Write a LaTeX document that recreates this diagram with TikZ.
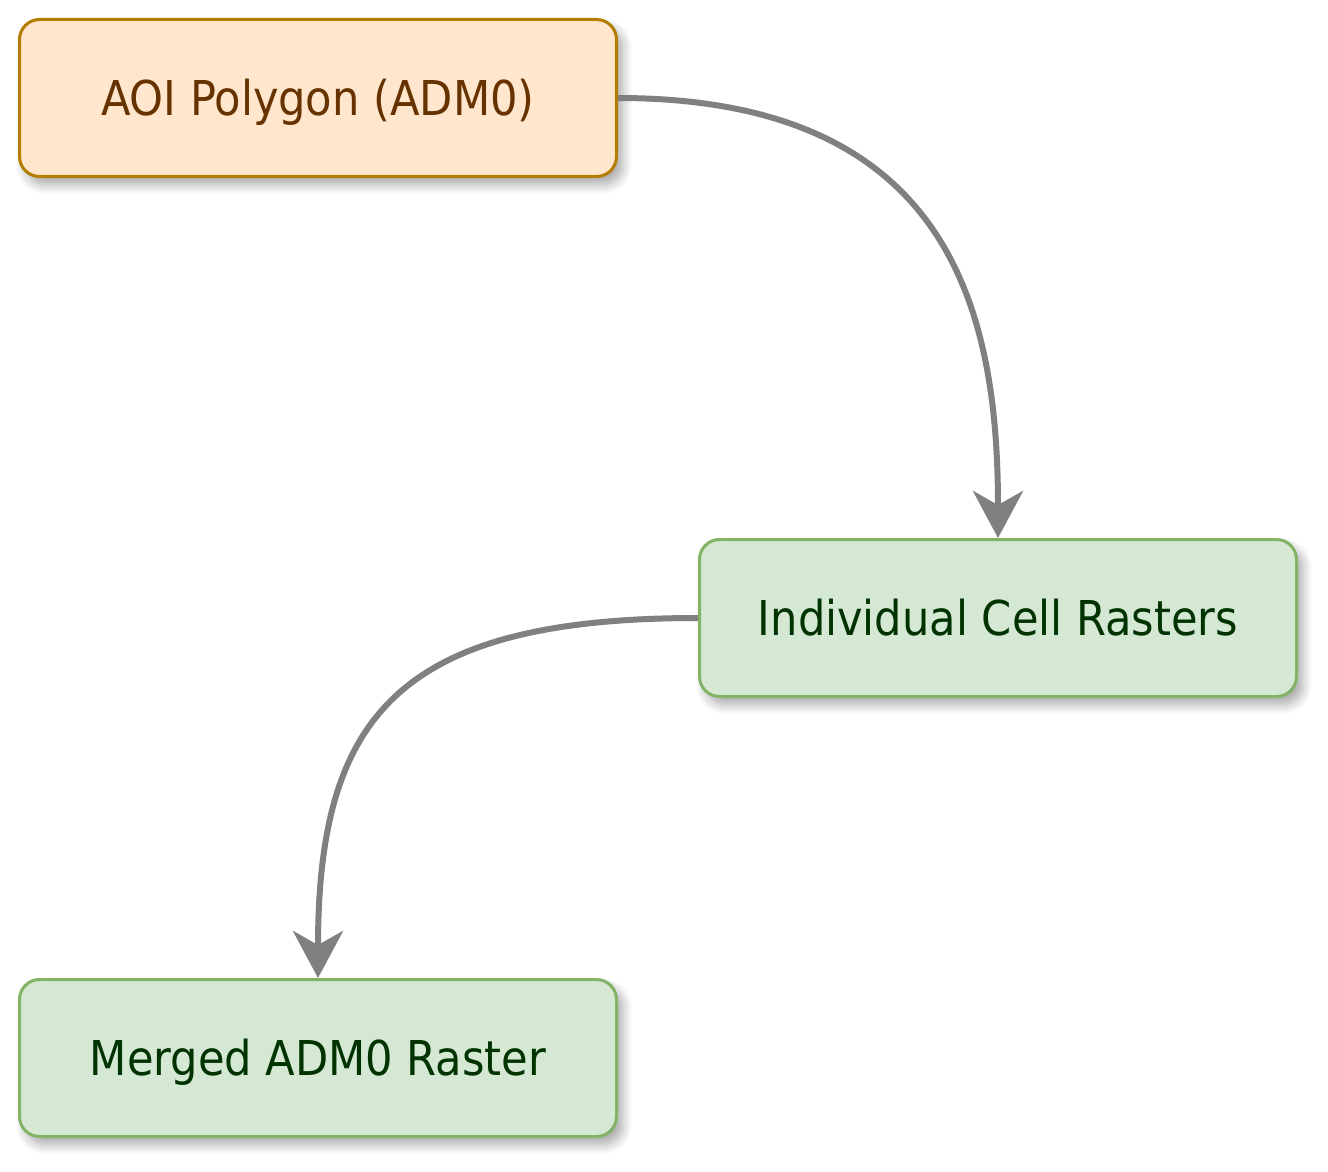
\documentclass[tikz,border=0pt]{standalone}
\usepackage{fontspec}
\setmainfont{DejaVu Sans Condensed}
\usepackage{tikz}
\usetikzlibrary{arrows.meta,shadows.blur}

\definecolor{aoiFill}{HTML}{FFE6CC}
\definecolor{aoiDraw}{HTML}{B47D00}
\definecolor{aoiText}{HTML}{663300}
\definecolor{rasFill}{HTML}{D5E8D4}
\definecolor{rasDraw}{HTML}{82B366}
\definecolor{rasText}{HTML}{003300}
\definecolor{flowGray}{HTML}{808080}

\begin{document}
\begin{tikzpicture}[
	line width = 1.5pt,
	box/.style={draw,rectangle,rounded corners=10pt,
		minimum width=298.5pt,minimum height=78.5pt,
		text height=17.5pt,text depth=0pt,
		font=\fontsize{24}{29}\selectfont,
		blur shadow={shadow xshift=3pt,shadow yshift=-4pt,
			shadow blur radius=5pt,shadow blur steps=10,shadow opacity=35}},
	aoi/.style={box,fill=aoiFill,draw=aoiDraw,text=aoiText},
	raster/.style={box,fill=rasFill,draw=rasDraw,text=rasText},
	flow/.style={draw=flowGray,line width=3pt,
		-{Stealth[length=23.5pt,width=25pt,inset=7pt]}}]

	\useasboundingbox (0,0) rectangle (664pt,-586pt);

	\node [aoi] (aoi) at (159pt,-49pt) {AOI Polygon (ADM0)};
	\node [raster] (cells) at (499pt,-309pt) {Individual Cell Rasters};
	\node [raster] (merged) at (159pt,-529pt) {Merged ADM0 Raster};

	\draw [flow] (aoi.east) to[out=0,in=90,out looseness=1.46,in looseness=1] (cells.north);
	\draw [flow] (cells.west) to[out=180,in=90,out looseness=1.45,in looseness=1.29] (merged.north);

\end{tikzpicture}
\end{document}
